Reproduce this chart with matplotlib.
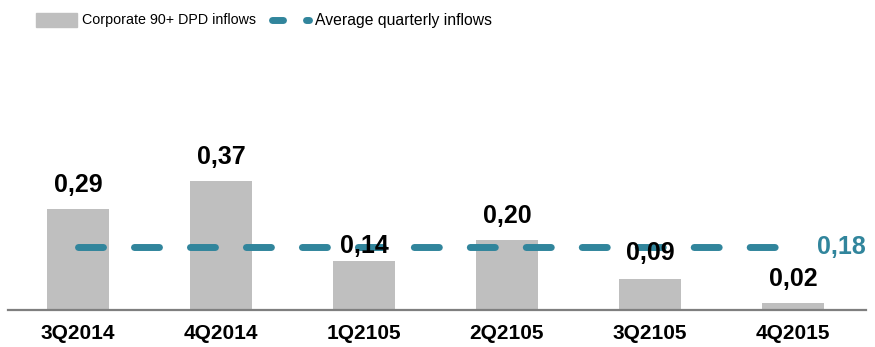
import matplotlib
matplotlib.use("Agg")
import matplotlib.pyplot as plt
from matplotlib.lines import Line2D
from matplotlib.patches import Rectangle

categories = ["3Q2014", "4Q2014", "1Q2105", "2Q2105", "3Q2105", "4Q2015"]
inflows = [0.29, 0.37, 0.14, 0.20, 0.09, 0.02]
average_inflow = 0.18
value_labels = ["0,29", "0,37", "0,14", "0,20", "0,09", "0,02"]
average_label = "0,18"

BAR = "#BFBFBF"
TEAL = "#31859C"
AXIS = "#7F7F7F"
plt.rcParams["font.family"] = ["Liberation Sans", "DejaVu Sans"]
plt.rcParams["lines.scale_dashes"] = False

W, H = 875, 347
fig = plt.figure(figsize=(W / 100, H / 100), dpi=100)
ax = fig.add_axes([7.5 / W, (H - 310) / H, 858 / W, 175 / H])

x = list(range(len(categories)))
ax.bar(x, inflows, width=0.427, color=BAR, zorder=1)
ax.plot([x[0], x[-1]], [average_inflow, average_inflow], color=TEAL, lw=5,
        dashes=(18, 22.3), dash_capstyle="round", solid_capstyle="round", zorder=2)

offsets = [12.2, 12.2, 6, 12.2, 13.5, 12.2]
for xi, v, lab, off in zip(x, inflows, value_labels, offsets):
    ax.annotate(lab, (xi, v), xytext=(0, off), textcoords="offset points",
                ha="center", va="baseline", fontsize=18, fontweight="bold",
                color="black", zorder=3)
ax.annotate(average_label, (x[-1], average_inflow), xytext=(17.6, 0),
            textcoords="offset points", ha="left", va="center",
            fontsize=18, fontweight="bold", color=TEAL)

ax.set_xlim(-0.493, 5.507)
ax.set_ylim(0, 0.5)
for s in ["top", "right", "left"]:
    ax.spines[s].set_visible(False)
ax.spines["bottom"].set_color(AXIS)
ax.spines["bottom"].set_linewidth(1.6)
ax.set_yticks([])
ax.set_xticks(x)
ax.set_xticklabels(categories, fontsize=15, fontweight="bold")
ax.tick_params(axis="x", length=0, pad=10)

# legend drawn in figure pixel coordinates
def fx(px):
    return px / W
def fy(py):
    return (H - py) / H

fig.patches.append(Rectangle((fx(36), fy(27)), 41 / W, 14 / H,
                             transform=fig.transFigure, color=BAR))
fig.text(fx(82), fy(20), "Corporate 90+ DPD inflows",
         fontsize=10.3, va="center", ha="left")
fig.lines.append(Line2D([fx(271.5), fx(282.5)], [fy(20), fy(20)],
                        transform=fig.transFigure, color=TEAL, lw=5,
                        solid_capstyle="round"))
fig.lines.append(Line2D([fx(305.5), fx(308.5)], [fy(20), fy(20)],
                        transform=fig.transFigure, color=TEAL, lw=5,
                        solid_capstyle="round"))
fig.text(fx(315), fy(20), "Average quarterly inflows",
         fontsize=11.3, va="center", ha="left")

fig.savefig("out.png", dpi=100)
